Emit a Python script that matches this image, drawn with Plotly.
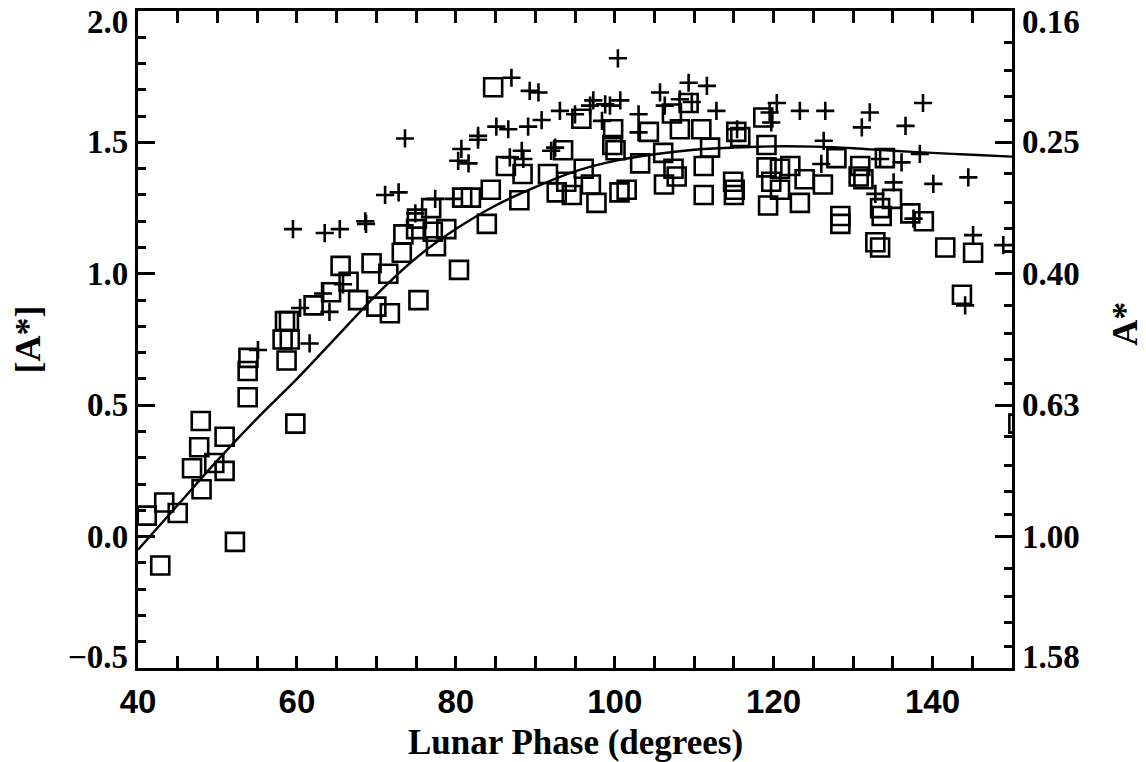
import plotly.graph_objects as go
import math

# ---------------- data ----------------
square_phase = [41.1, 42.8, 43.3, 45.0, 46.8, 47.7, 47.9, 48.0, 49.6, 50.9, 50.9, 52.2,
                53.8, 53.8, 53.9, 58.2, 58.5, 58.7, 59.0, 59.1, 59.8, 62.1, 64.3, 65.5,
                66.5, 67.7, 69.4, 70.0, 71.5, 71.7, 73.2, 73.4, 75.0, 75.1, 75.3, 76.9,
                77.1, 77.5, 78.8, 80.4, 80.8, 81.9, 83.9, 84.4, 84.7, 86.3, 88.0, 88.4,
                91.6, 92.7, 93.5, 93.9, 94.6, 95.8, 96.1, 97.0, 97.7, 99.8, 99.7, 100.1,
                100.6, 101.5, 103.2, 104.3, 106.1, 106.2, 107.2, 107.4, 107.8, 108.2, 109.3,
                110.9, 111.2, 111.2, 112.0, 114.9, 115.0, 115.1, 115.3, 115.8, 118.7, 119.1,
                119.1, 119.7, 119.3, 120.8, 120.8, 122.1, 123.3, 123.9, 126.2, 127.9, 128.4,
                128.4, 130.7, 130.9, 131.3, 132.8, 133.4, 133.4, 133.6, 134.0, 134.9, 137.2,
                138.9, 141.6, 143.7, 145.1, 150.8]
square_mag = [0.08, -0.11, 0.13, 0.09, 0.26, 0.34, 0.44, 0.18, 0.28, 0.25, 0.38, -0.02,
              0.53, 0.63, 0.68, 0.75, 0.82, 0.67, 0.82, 0.75, 0.43, 0.88, 0.93, 1.03,
              0.97, 0.90, 1.04, 0.875, 1.00, 0.85, 1.08, 1.15, 1.17, 1.21, 0.90, 1.25,
              1.16, 1.105, 1.17, 1.015, 1.29, 1.29, 1.19, 1.32, 1.71, 1.41, 1.28, 1.38,
              1.38, 1.31, 1.47, 1.35, 1.30, 1.59, 1.40, 1.34, 1.27, 1.55, 1.49, 1.47,
              1.31, 1.32, 1.42, 1.54, 1.46, 1.34, 1.61, 1.40, 1.37, 1.55, 1.65,
              1.55, 1.41, 1.30, 1.48, 1.35, 1.30, 1.32, 1.54, 1.52, 1.595, 1.49,
              1.405, 1.35, 1.26, 1.32, 1.40, 1.41, 1.27, 1.36, 1.34, 1.44, 1.22,
              1.19, 1.37, 1.41, 1.36, 1.12, 1.10, 1.25, 1.22, 1.44, 1.285, 1.23,
              1.20, 1.10, 0.92, 1.08, 0.43]

plus_phase = [55.1, 59.5, 60.4, 61.6, 63.3, 63.5, 64.1, 65.4, 65.8, 68.6, 68.7, 71.1,
              72.8, 73.6, 74.9, 77.4, 79.7, 80.3, 80.7, 81.6, 82.8, 82.8, 85.1, 86.6,
              86.8, 87.0, 88.3, 88.5, 89.1, 89.3, 90.4, 90.8, 92.0, 92.5, 93.1, 95.0,
              96.9, 97.3, 98.4, 98.8, 99.4, 100.4, 100.7, 103.0, 103.0, 105.7, 106.3,
              108.2, 109.3, 109.7, 111.6, 112.8, 115.4, 119.5, 119.7, 120.4, 123.3,
              126.0, 126.3, 126.5, 131.1, 132.1, 132.8, 133.4, 135.1, 136.1, 136.6,
              137.6, 138.4, 138.8, 140.1, 144.1, 144.5, 145.1, 148.9]
plus_mag = [0.71, 1.17, 0.87, 0.735, 0.925, 1.155, 0.855, 1.17, 0.96, 1.20, 1.19, 1.30,
            1.31, 1.515, 1.23, 1.285, 1.285, 1.43, 1.475, 1.42, 1.525, 1.51, 1.56, 1.55,
            1.443, 1.746, 1.468, 1.437, 1.56, 1.696, 1.69, 1.585, 1.468, 1.48, 1.62, 1.607,
            1.64, 1.66, 1.582, 1.645, 1.64, 1.82, 1.66, 1.607, 1.538, 1.69, 1.64,
            1.664, 1.727, 1.654, 1.715, 1.62, 1.55, 1.614, 1.576, 1.65, 1.62,
            1.418, 1.506, 1.62, 1.557, 1.614, 1.304, 1.437, 1.348, 1.424, 1.563,
            1.21, 1.456, 1.65, 1.342, 0.88, 1.367, 1.147, 1.109]

fit_phase = [40, 45, 50, 55, 60, 65, 70, 75, 80, 85, 90, 95, 100, 105, 110, 115, 120,
             125, 130, 135, 140, 145, 150]
fit_mag = [-0.05, 0.12, 0.29, 0.45, 0.60, 0.76, 0.92, 1.06, 1.17, 1.26, 1.33, 1.39, 1.43,
           1.455, 1.472, 1.48, 1.485, 1.484, 1.478, 1.468, 1.46, 1.453, 1.446]

left_tick_vals = [-0.5, 0.0, 0.5, 1.0, 1.5, 2.0]
left_tick_text = ["\u22120.5", "0.0", "0.5", "1.0", "1.5", "2.0"]
right_tick_text = ["1.58", "1.00", "0.63", "0.40", "0.25", "0.16"]
x_tick_vals = [40, 60, 80, 100, 120, 140]

# right-axis minor ticks: linear steps of A* between the labelled values
right_minor = []
for i in range(len(left_tick_vals) - 1):
    a_lo = 10 ** (-0.4 * left_tick_vals[i + 1])
    a_hi = 10 ** (-0.4 * left_tick_vals[i])
    for k in range(1, 5):
        a = a_lo + (a_hi - a_lo) * k / 5
        right_minor.append(-2.5 * math.log10(a))

SERIF = "Liberation Serif"
SANS = "Liberation Sans"
BLACK = "black"

fig = go.Figure()

fig.add_trace(go.Scatter(
    x=square_phase, y=square_mag, mode="markers",
    marker=dict(symbol="square-open", size=18, color=BLACK,
                line=dict(color=BLACK, width=2.6)),
    showlegend=False, hoverinfo="skip", cliponaxis=True))

fig.add_trace(go.Scatter(
    x=plus_phase, y=plus_mag, mode="markers",
    marker=dict(symbol="cross-thin-open", size=13, color=BLACK,
                line=dict(color=BLACK, width=2.6)),
    showlegend=False, hoverinfo="skip", cliponaxis=True))

fig.add_trace(go.Scatter(
    x=fit_phase, y=fit_mag, mode="lines", yaxis="y2",
    line=dict(color=BLACK, width=2.4, shape="spline", smoothing=0.8),
    showlegend=False, hoverinfo="skip"))

fig.update_layout(
    width=1146, height=762,
    margin=dict(l=138, r=134, t=8, b=94),
    paper_bgcolor="white", plot_bgcolor="white",
    xaxis=dict(range=[40, 150], tickmode="array", tickvals=x_tick_vals,
               ticks="inside", ticklen=12, tickwidth=2.5, tickcolor=BLACK,
               minor=dict(dtick=5, tick0=40, ticks="inside", ticklen=6,
                          tickwidth=2.5, tickcolor=BLACK),
               showline=True, linewidth=3, linecolor=BLACK, mirror="allticks",
               showgrid=False, zeroline=False,
               tickfont=dict(family=SANS, size=33, color=BLACK, weight="bold"),
               ticklabelstandoff=2),
    yaxis=dict(range=[-0.5, 2.0], tickmode="array", tickvals=left_tick_vals,
               ticks="inside", ticklen=17, tickwidth=2.5, tickcolor=BLACK,
               minor=dict(dtick=0.1, tick0=0, ticks="inside", ticklen=8,
                          tickwidth=2.5, tickcolor=BLACK),
               showline=True, linewidth=3, linecolor=BLACK,
               showticklabels=False, showgrid=False, zeroline=False),
    yaxis2=dict(range=[-0.5, 2.0], overlaying="y", side="right",
                tickmode="array", tickvals=left_tick_vals,
                ticks="inside", ticklen=17, tickwidth=2.5, tickcolor=BLACK,
                minor=dict(tickmode="array", tickvals=right_minor, ticks="inside",
                           ticklen=8, tickwidth=2.5, tickcolor=BLACK),
                showline=True, linewidth=3, linecolor=BLACK,
                showticklabels=False, showgrid=False, zeroline=False),
)

ann = []
n = len(left_tick_vals)
for i, (v, t, r) in enumerate(zip(left_tick_vals, left_tick_text, right_tick_text)):
    shift = 11 if i == 0 else (-11 if i == n - 1 else 0)
    ann.append(dict(x=0, xref="paper", y=v, yref="y", text=t, showarrow=False,
                    xanchor="right", yanchor="middle", xshift=-8, yshift=shift,
                    font=dict(family=SERIF, size=33, color=BLACK, weight="bold")))
    ann.append(dict(x=1, xref="paper", y=v, yref="y", text=r, showarrow=False,
                    xanchor="left", yanchor="middle", xshift=8, yshift=shift,
                    font=dict(family=SERIF, size=33, color=BLACK, weight="bold")))

ann.append(dict(x=0.5, xref="paper", y=0, yref="paper", text="Lunar Phase (degrees)",
                showarrow=False, xanchor="center", yanchor="middle", yshift=-74,
                font=dict(family=SERIF, size=35, color=BLACK, weight="bold")))
ann.append(dict(x=0, xref="paper", y=0.5, yref="paper", text="[A*]", textangle=-90,
                showarrow=False, xanchor="center", yanchor="middle", xshift=-111,
                font=dict(family=SERIF, size=36, color=BLACK, weight="bold")))
ann.append(dict(x=1, xref="paper", y=0.524, yref="paper", text="A*", textangle=-90,
                showarrow=False, xanchor="center", yanchor="middle", xshift=113,
                font=dict(family=SERIF, size=36, color=BLACK, weight="bold")))
fig.update_layout(annotations=ann)

fig.write_html("out.html")
